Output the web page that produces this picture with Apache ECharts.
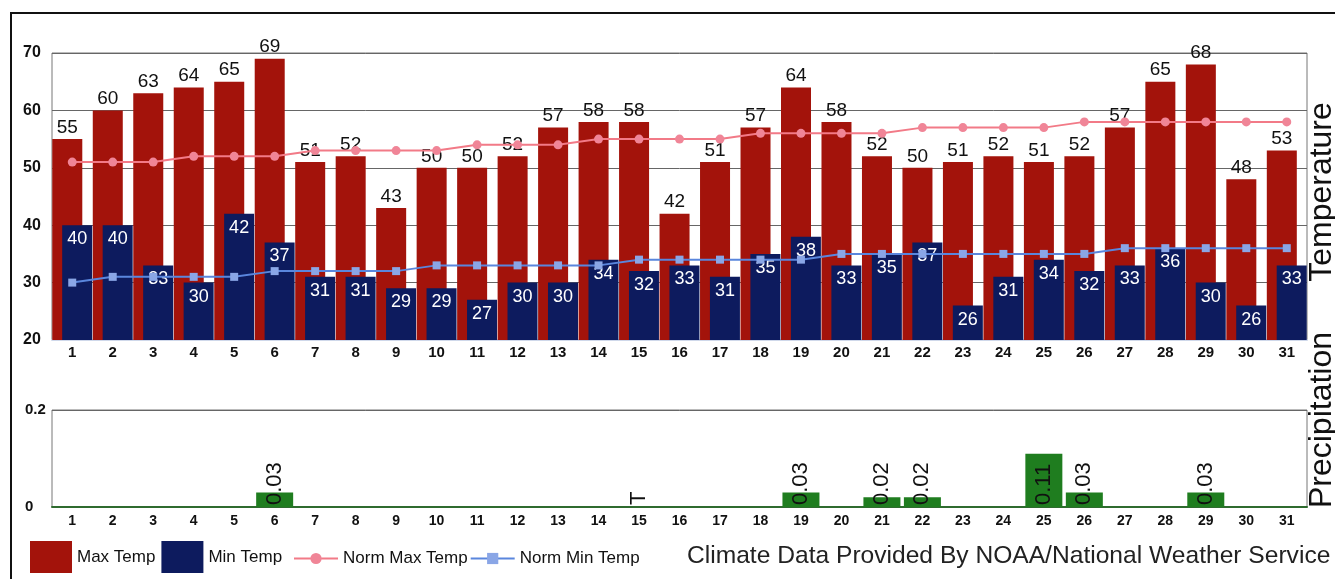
<!DOCTYPE html>
<html>
<head>
<meta charset="utf-8">
<style>
  html, body { margin: 0; padding: 0; background: #fff; }
  #chart { width: 1335px; height: 579px; }
</style>
<script src="https://cdn.jsdelivr.net/npm/echarts@6/dist/echarts.min.js"></script>
</head>
<body>
<div id="chart"></div>
<script>
// days of the month
const days = ['1', '2', '3', '4', '5', '6', '7', '8', '9', '10', '11', '12', '13', '14', '15', '16',
  '17', '18', '19', '20', '21', '22', '23', '24', '25', '26', '27', '28', '29', '30', '31']

const maxTemp = [55, 60, 63, 64, 65, 69, 51, 52, 43, 50, 50, 52, 57, 58, 58, 42,
  51, 57, 64, 58, 52, 50, 51, 52, 51, 52, 57, 65, 68, 48, 53]
const minTemp = [40, 40, 33, 30, 42, 37, 31, 31, 29, 29, 27, 30, 30, 34, 32, 33,
  31, 35, 38, 33, 35, 37, 26, 31, 34, 32, 33, 36, 30, 26, 33]
const normMax = [51, 51, 51, 52, 52, 52, 53, 53, 53, 53, 54, 54, 54, 55, 55, 55,
  55, 56, 56, 56, 56, 57, 57, 57, 57, 58, 58, 58, 58, 58, 58]
const normMin = [30, 31, 31, 31, 31, 32, 32, 32, 32, 33, 33, 33, 33, 33, 34, 34,
  34, 34, 34, 35, 35, 35, 35, 35, 35, 35, 36, 36, 36, 36, 36]

// precipitation (inches), trace days get a "T" label
const precip = [0, 0, 0, 0, 0, 0.03, 0, 0, 0, 0, 0, 0, 0, 0, 0, 0,
  0, 0, 0.03, 0, 0.02, 0.02, 0, 0, 0.11, 0.03, 0, 0, 0.03, 0, 0]
const traceDays = ['15']

const fontFamily = 'Liberation Sans, Arial, sans-serif'

const chart = echarts.init(document.getElementById('chart'))

const precipData = precip.map((v, i) => {
  const isTrace = traceDays.indexOf(days[i]) > -1
  return {
    value: v,
    label: {
      show: v > 0 || isTrace,
      formatter: isTrace ? 'T' : String(v)
    }
  }
})

const axisLabelStyle = {
  color: '#111',
  fontWeight: 'bold',
  fontFamily: fontFamily
}

chart.setOption({
  animation: false,
  backgroundColor: '#fff',
  textStyle: { fontFamily: fontFamily },
  grid: [
    { left: 52, right: 28, top: 53, height: 287, show: true, borderColor: '#777', borderWidth: 1 },
    { left: 52, right: 28, top: 410, height: 97, show: true, borderColor: '#777', borderWidth: 1 }
  ],
  legend: [{
    data: ['Max Temp', 'Min Temp'],
    left: 30,
    top: 541,
    padding: 0,
    icon: 'rect',
    itemWidth: 42,
    itemHeight: 32,
    itemGap: 6,
    textStyle: { fontSize: 17, color: '#111', fontFamily: fontFamily }
  }, {
    data: ['Norm Max Temp', 'Norm Min Temp'],
    left: 293,
    top: 550,
    padding: 0,
    itemWidth: 44,
    itemHeight: 14,
    itemGap: 2,
    textStyle: { fontSize: 17, color: '#111', fontFamily: fontFamily }
  }],
  xAxis: [{
    type: 'category',
    gridIndex: 0,
    data: days,
    axisTick: { show: false },
    axisLine: { lineStyle: { color: '#cfd8ea', width: 2 } },
    axisLabel: Object.assign({ fontSize: 15, margin: 5, interval: 0 }, axisLabelStyle)
  }, {
    type: 'category',
    gridIndex: 1,
    data: days,
    axisTick: { show: false },
    axisLine: { lineStyle: { color: '#2f6b2f', width: 2 } },
    axisLabel: Object.assign({ fontSize: 14, margin: 7, interval: 0 }, axisLabelStyle)
  }],
  yAxis: [{
    type: 'value',
    gridIndex: 0,
    min: 20,
    max: 70,
    interval: 10,
    axisLine: { show: false },
    axisTick: { show: false },
    splitLine: { lineStyle: { color: '#666', width: 1 } },
    axisLabel: Object.assign({ fontSize: 16, margin: 29, align: 'left' }, axisLabelStyle)
  }, {
    type: 'value',
    gridIndex: 1,
    min: 0,
    max: 0.2,
    interval: 0.2,
    axisLine: { show: false },
    axisTick: { show: false },
    splitLine: { lineStyle: { color: '#666', width: 1 } },
    axisLabel: Object.assign({ fontSize: 15, margin: 27, align: 'left' }, axisLabelStyle)
  }],
  graphic: [{
    type: 'rect',
    shape: { x: 11, y: 13, width: 1400, height: 620 },
    style: { fill: 'none', stroke: '#111', lineWidth: 2 },
    silent: true
  }, {
    type: 'text',
    x: 1322,
    y: 192,
    rotation: Math.PI / 2,
    style: {
      text: 'Temperature',
      font: '32px ' + fontFamily,
      fill: '#111',
      align: 'center',
      verticalAlign: 'middle'
    }
  }, {
    type: 'text',
    x: 1322,
    y: 420,
    rotation: Math.PI / 2,
    style: {
      text: 'Precipitation',
      font: '32px ' + fontFamily,
      fill: '#111',
      align: 'center',
      verticalAlign: 'middle'
    }
  }, {
    type: 'text',
    x: 687,
    y: 556,
    style: {
      text: 'Climate Data Provided By NOAA/National Weather Service',
      font: '24.6px ' + fontFamily,
      fill: '#222',
      align: 'left',
      verticalAlign: 'middle'
    }
  }],
  series: [{
    name: 'Max Temp',
    type: 'bar',
    xAxisIndex: 0,
    yAxisIndex: 0,
    data: maxTemp,
    barWidth: 30,
    barGap: '-67%',
    itemStyle: { color: '#a3130b' },
    label: {
      show: true,
      position: 'top',
      distance: 2,
      fontSize: 19,
      color: '#111',
      fontFamily: fontFamily
    }
  }, {
    name: 'Min Temp',
    type: 'bar',
    xAxisIndex: 0,
    yAxisIndex: 0,
    data: minTemp,
    barWidth: 30,
    barGap: '-67%',
    itemStyle: { color: '#0d1b5e' },
    label: {
      show: true,
      position: 'insideTop',
      distance: 5,
      fontSize: 18,
      color: '#fff',
      fontFamily: fontFamily
    }
  }, {
    name: 'Norm Max Temp',
    type: 'line',
    xAxisIndex: 0,
    yAxisIndex: 0,
    data: normMax,
    symbol: 'circle',
    symbolSize: 9,
    itemStyle: { color: '#f08597' },
    lineStyle: { color: '#f27a87', width: 2 },
    z: 5
  }, {
    name: 'Norm Min Temp',
    type: 'line',
    xAxisIndex: 0,
    yAxisIndex: 0,
    data: normMin,
    symbol: 'rect',
    symbolSize: 8,
    itemStyle: { color: '#8aa6e6' },
    lineStyle: { color: '#5a86dd', width: 2 },
    z: 5
  }, {
    name: 'Precipitation',
    type: 'bar',
    xAxisIndex: 1,
    yAxisIndex: 1,
    data: precipData,
    barWidth: 37,
    itemStyle: { color: '#1f7d1f' },
    label: {
      position: 'insideBottom',
      distance: 2,
      rotate: 90,
      align: 'left',
      verticalAlign: 'middle',
      fontSize: 22,
      color: '#111',
      fontFamily: fontFamily
    }
  }]
})
</script>
</body>
</html>
